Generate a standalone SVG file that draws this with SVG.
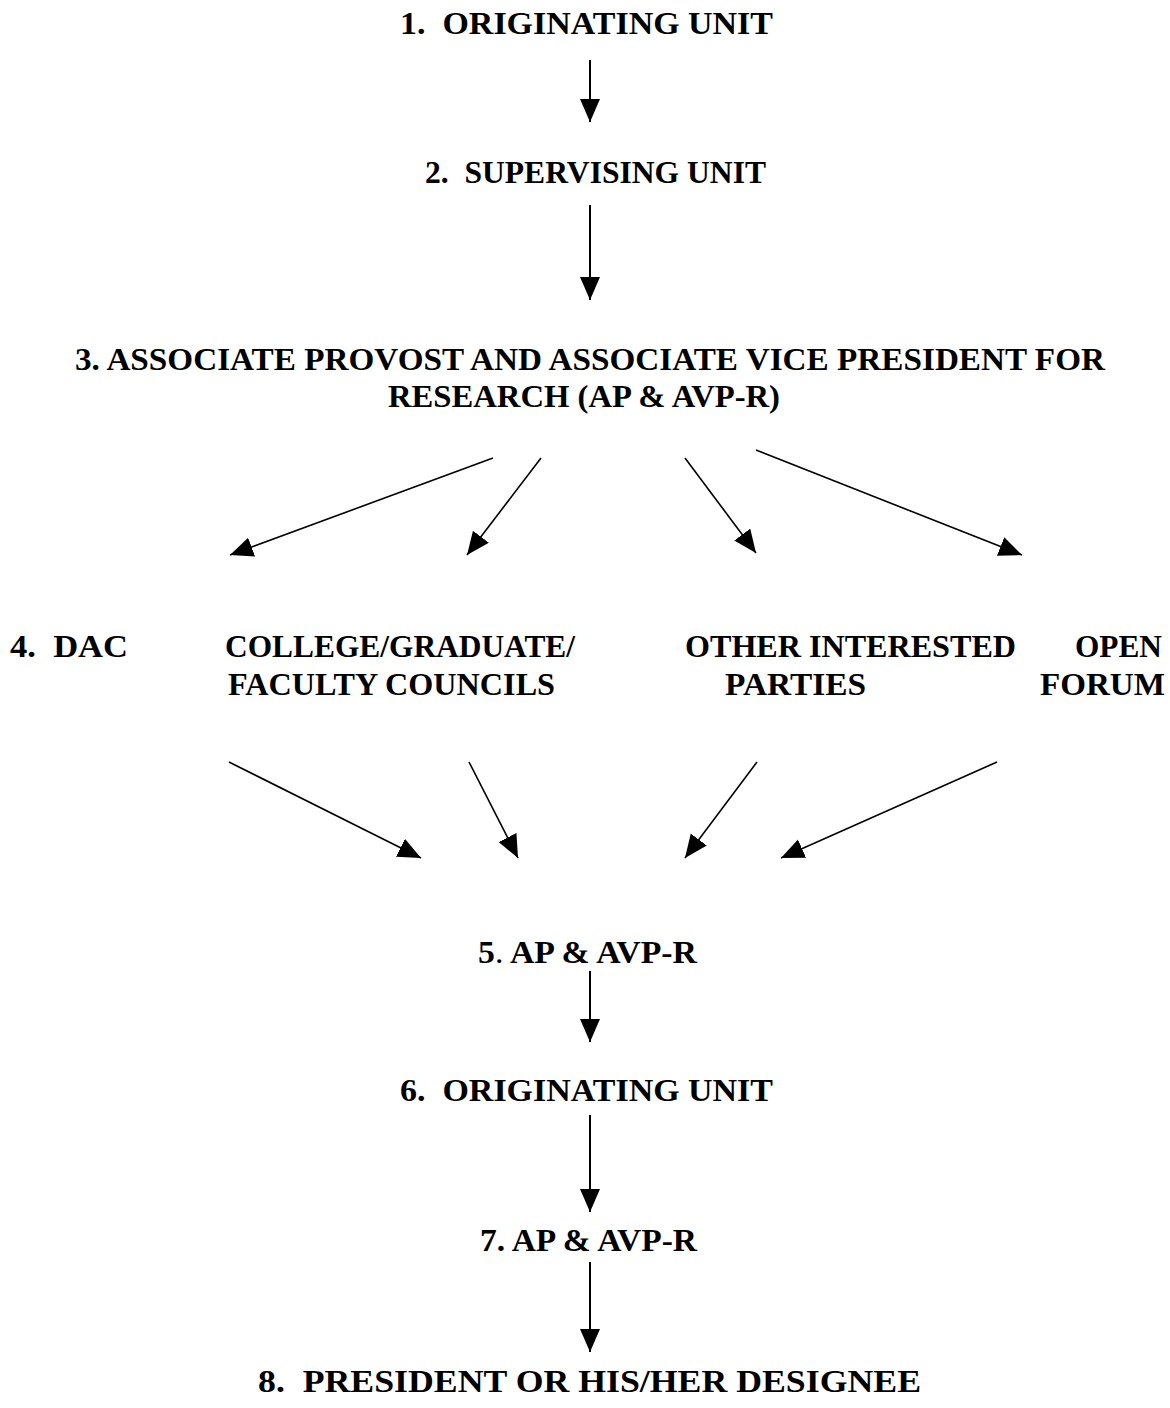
<svg xmlns="http://www.w3.org/2000/svg" width="1170" height="1408" viewBox="0 0 1170 1408">
<style>
  text { font-family: "Liberation Serif", "Times New Roman", serif; font-weight: bold; font-size: 31px; fill: #000; white-space: pre; }
  .c { stroke: #000; stroke-width: 2; fill: none; }
  .d { stroke: #000; stroke-width: 1.6; fill: none; }
</style>
<defs>
  <marker id="ah" markerUnits="userSpaceOnUse" markerWidth="26" markerHeight="22" refX="23" refY="10" orient="auto">
    <path d="M0,0 L23,10 L0,20 z" fill="#000"/>
  </marker>
</defs>
<rect width="1170" height="1408" fill="#fff"/>
<g id="n1"><text x="400" y="34" textLength="373" lengthAdjust="spacingAndGlyphs" xml:space="preserve">1.  ORIGINATING UNIT</text></g>
<g id="n2"><text x="425" y="183" textLength="341" lengthAdjust="spacingAndGlyphs" xml:space="preserve">2.  SUPERVISING UNIT</text></g>
<g id="n3">
  <text x="75" y="370" textLength="1030" lengthAdjust="spacingAndGlyphs">3. ASSOCIATE PROVOST AND ASSOCIATE VICE PRESIDENT FOR</text>
  <text x="388" y="407" textLength="392" lengthAdjust="spacingAndGlyphs">RESEARCH (AP &amp; AVP-R)</text>
</g>
<g id="n4dac"><text x="10" y="657" textLength="118" lengthAdjust="spacingAndGlyphs" xml:space="preserve">4.  DAC</text></g>
<g id="n4college">
  <text x="225" y="657" textLength="350" lengthAdjust="spacingAndGlyphs">COLLEGE/GRADUATE/</text>
  <text x="228" y="695" textLength="327" lengthAdjust="spacingAndGlyphs">FACULTY COUNCILS</text>
</g>
<g id="n4other">
  <text x="685" y="657" textLength="331" lengthAdjust="spacingAndGlyphs">OTHER INTERESTED</text>
  <text x="725" y="695" textLength="141" lengthAdjust="spacingAndGlyphs">PARTIES</text>
</g>
<g id="n4open">
  <text x="1075" y="657" textLength="87" lengthAdjust="spacingAndGlyphs">OPEN</text>
  <text x="1040" y="695" textLength="125" lengthAdjust="spacingAndGlyphs">FORUM</text>
</g>
<g id="n5"><text x="478" y="963" textLength="219" lengthAdjust="spacingAndGlyphs">5<tspan font-weight="normal">.</tspan> AP &amp; AVP-R</text></g>
<g id="n6"><text x="400" y="1101" textLength="373" lengthAdjust="spacingAndGlyphs" xml:space="preserve">6.  ORIGINATING UNIT</text></g>
<g id="n7"><text x="480" y="1251" textLength="217" lengthAdjust="spacingAndGlyphs">7. AP &amp; AVP-R</text></g>
<g id="n8"><text x="258" y="1392" textLength="663" lengthAdjust="spacingAndGlyphs" xml:space="preserve">8.  PRESIDENT OR HIS/HER DESIGNEE</text></g>
<g id="connectors">
  <line class="c" x1="590" y1="60" x2="590" y2="122" marker-end="url(#ah)"/>
  <line class="c" x1="590" y1="205" x2="590" y2="300" marker-end="url(#ah)"/>
  <line class="d" x1="493" y1="458" x2="230" y2="555" marker-end="url(#ah)"/>
  <line class="d" x1="541" y1="458" x2="467" y2="555" marker-end="url(#ah)"/>
  <line class="d" x1="685" y1="458" x2="756" y2="553" marker-end="url(#ah)"/>
  <line class="d" x1="756" y1="450" x2="1022" y2="555" marker-end="url(#ah)"/>
  <line class="d" x1="229" y1="762" x2="421" y2="858" marker-end="url(#ah)"/>
  <line class="d" x1="469" y1="762" x2="518" y2="858" marker-end="url(#ah)"/>
  <line class="d" x1="757" y1="762" x2="685" y2="858" marker-end="url(#ah)"/>
  <line class="d" x1="997" y1="762" x2="781" y2="858" marker-end="url(#ah)"/>
  <line class="c" x1="590" y1="971" x2="590" y2="1042" marker-end="url(#ah)"/>
  <line class="c" x1="590" y1="1115" x2="590" y2="1212" marker-end="url(#ah)"/>
  <line class="c" x1="590" y1="1262" x2="590" y2="1352" marker-end="url(#ah)"/>
</g>
</svg>
